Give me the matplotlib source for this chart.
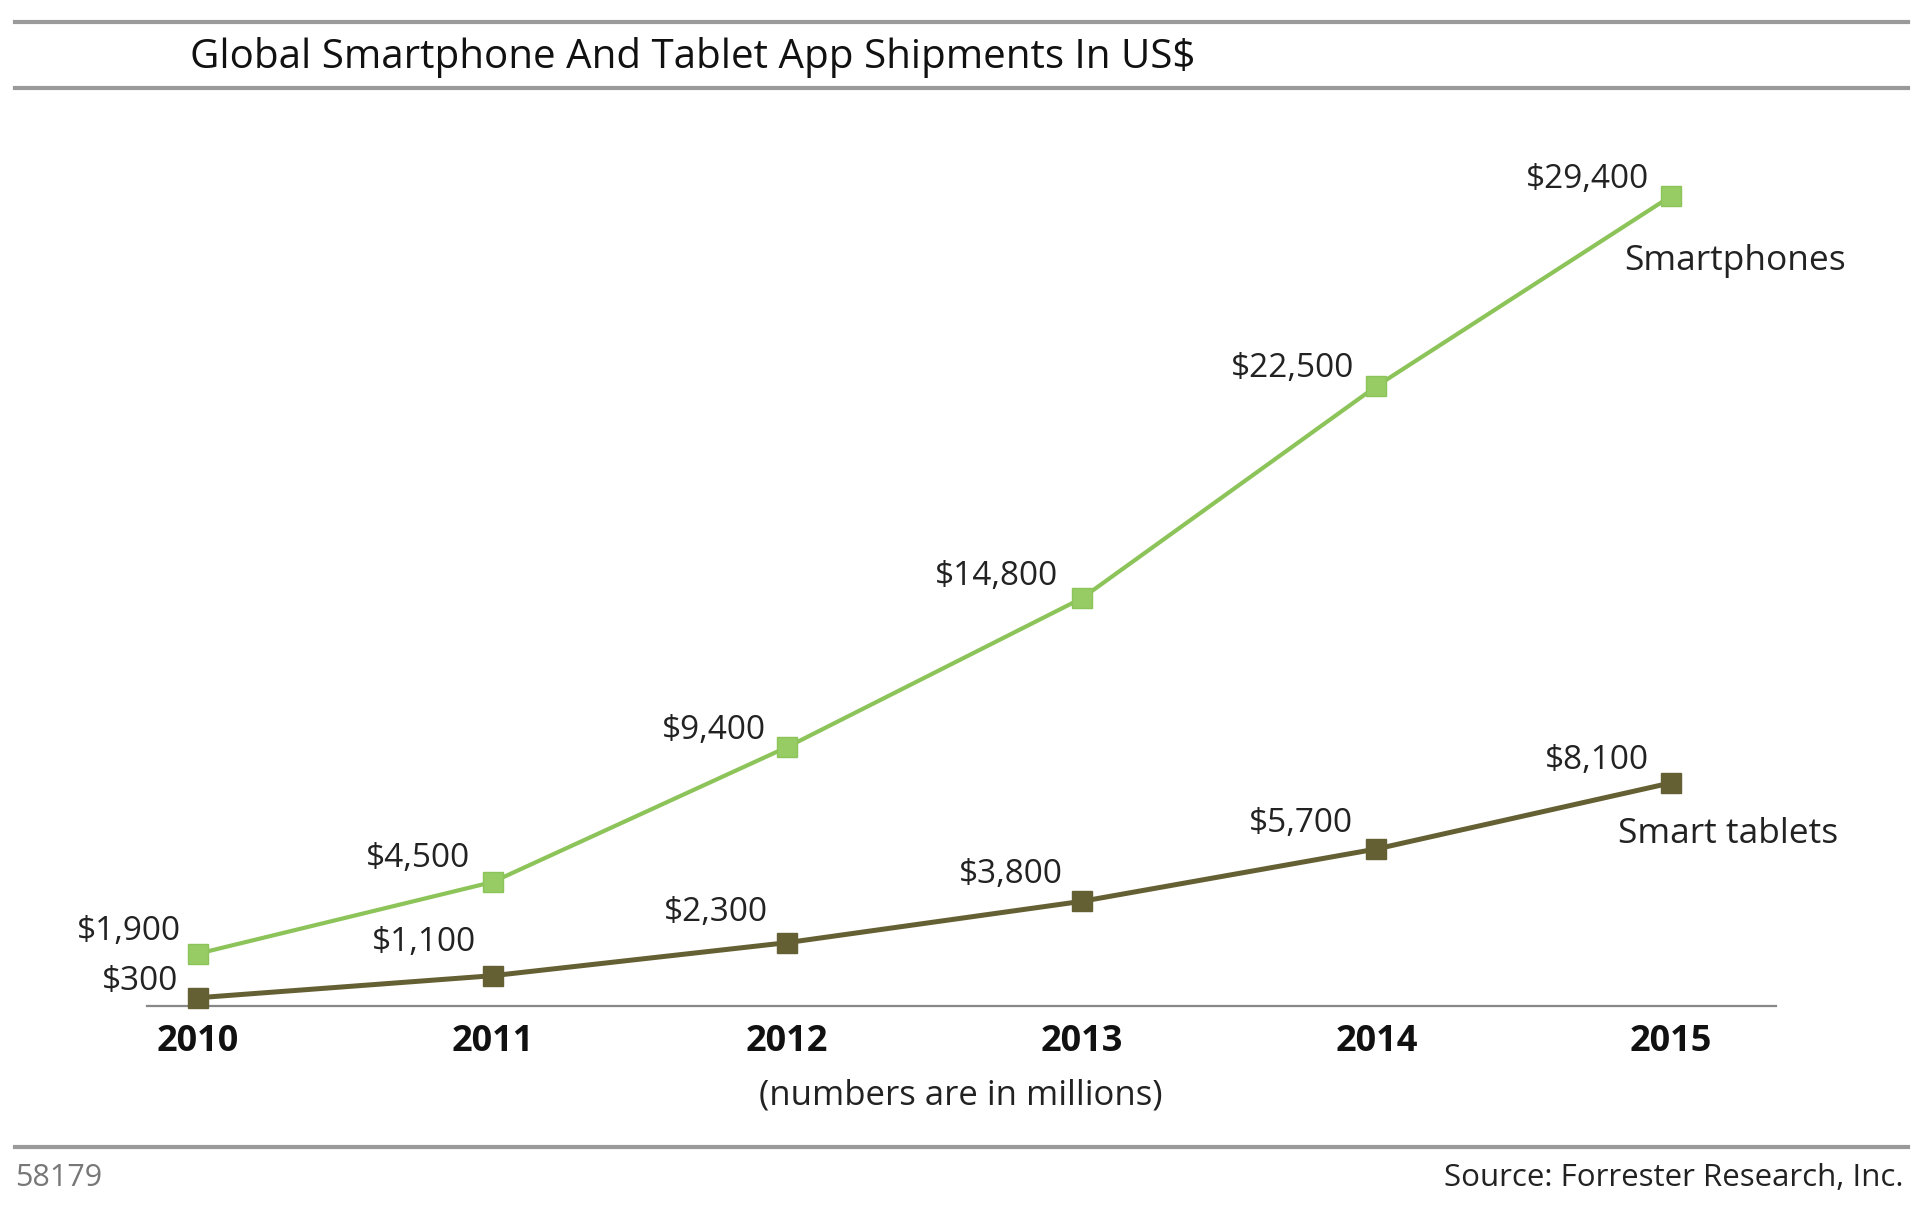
import matplotlib
matplotlib.use("Agg")
import matplotlib.pyplot as plt
from matplotlib.lines import Line2D

plt.rcParams['font.family'] = ['Open Sans', 'DejaVu Sans']

# data (US$ millions)
years = [2010, 2011, 2012, 2013, 2014, 2015]
smartphones = [1900, 4500, 9400, 14800, 22500, 29400]
tablets = [300, 1100, 2300, 3800, 5700, 8100]
series_names = ["Smartphones", "Smart tablets"]

# label offsets in points (dx, dy) -- styling, not data
phone_offsets = [(-12, 16), (-16, 17), (-15, 12), (-17, 16), (-16, 13), (-16, 12)]
tablet_offsets = [(-14, 12), (-12, 24), (-14, 22), (-14, 19), (-17, 18), (-16, 16)]

W, H = 1920, 1208
fig = plt.figure(figsize=(W / 100, H / 100), dpi=100)

def fy(py):
    return 1 - py / H

# axes placed so that the x axis sits at y=1006 px
ax = fig.add_axes([147 / W, fy(1006), (1776 - 147) / W, (1006 - 152) / H])
ax.set_xlim(2009.827, 2015.356)
ax.set_ylim(0, 31000)

green_line = '#8cc45a'
green_mark = '#97cc65'
olive = '#656033'

ax.plot(years, smartphones, color=green_line, lw=3, marker='s', ms=14,
        mfc=green_mark, mec=green_line, mew=1, zorder=3, clip_on=False)
ax.plot(years, tablets, color=olive, lw=3.6, marker='s', ms=14,
        mfc=olive, mec=olive, zorder=3, clip_on=False)

for x, v, off in zip(years, smartphones, phone_offsets):
    ax.annotate(f"${v:,}", (x, v), xytext=off, textcoords='offset points',
                ha='right', va='center', fontsize=24, color='#222222')
for x, v, off in zip(years, tablets, tablet_offsets):
    ax.annotate(f"${v:,}", (x, v), xytext=off, textcoords='offset points',
                ha='right', va='center', fontsize=24, color='#222222')

# series names next to the last points
ax.annotate(series_names[0], (years[-1], smartphones[-1]), xytext=(-34, -47),
            textcoords='offset points', ha='left', va='center', fontsize=25.5, color='#222222')
ax.annotate(series_names[1], (years[-1], tablets[-1]), xytext=(-38, -37),
            textcoords='offset points', ha='left', va='center', fontsize=25.5, color='#222222')

for s in ['top', 'right', 'left']:
    ax.spines[s].set_visible(False)
ax.spines['bottom'].set_color('#888888')
ax.spines['bottom'].set_linewidth(1.6)
ax.set_yticks([])
ax.set_xticks(years)
ax.set_xticklabels([str(y) for y in years], fontsize=26, fontweight='bold', color='#111111')
ax.tick_params(axis='x', length=0, pad=13)
ax.set_xlabel("(numbers are in millions)", fontsize=25, color='#222222')
ax.xaxis.set_label_coords((961 - 147) / (1776 - 147), -(1079 - 1006) / (1006 - 152))

# horizontal rules
for py in [22, 88, 1147]:
    fig.add_artist(Line2D([15 / W, 1908 / W], [fy(py), fy(py)], color='#9a9a9a', lw=3,
                          transform=fig.transFigure))

fig.text(190 / W, fy(57), "Global Smartphone And Tablet App Shipments In US$",
         fontsize=29, ha='left', va='center', color='#111111')
fig.text(15 / W, fy(1178), "58179", fontsize=22, ha='left', va='center', color='#777777')
fig.text(1904 / W, fy(1178), "Source: Forrester Research, Inc.", fontsize=22.5,
         ha='right', va='center', color='#222222')

fig.savefig("out.png", dpi=100, facecolor='white')
